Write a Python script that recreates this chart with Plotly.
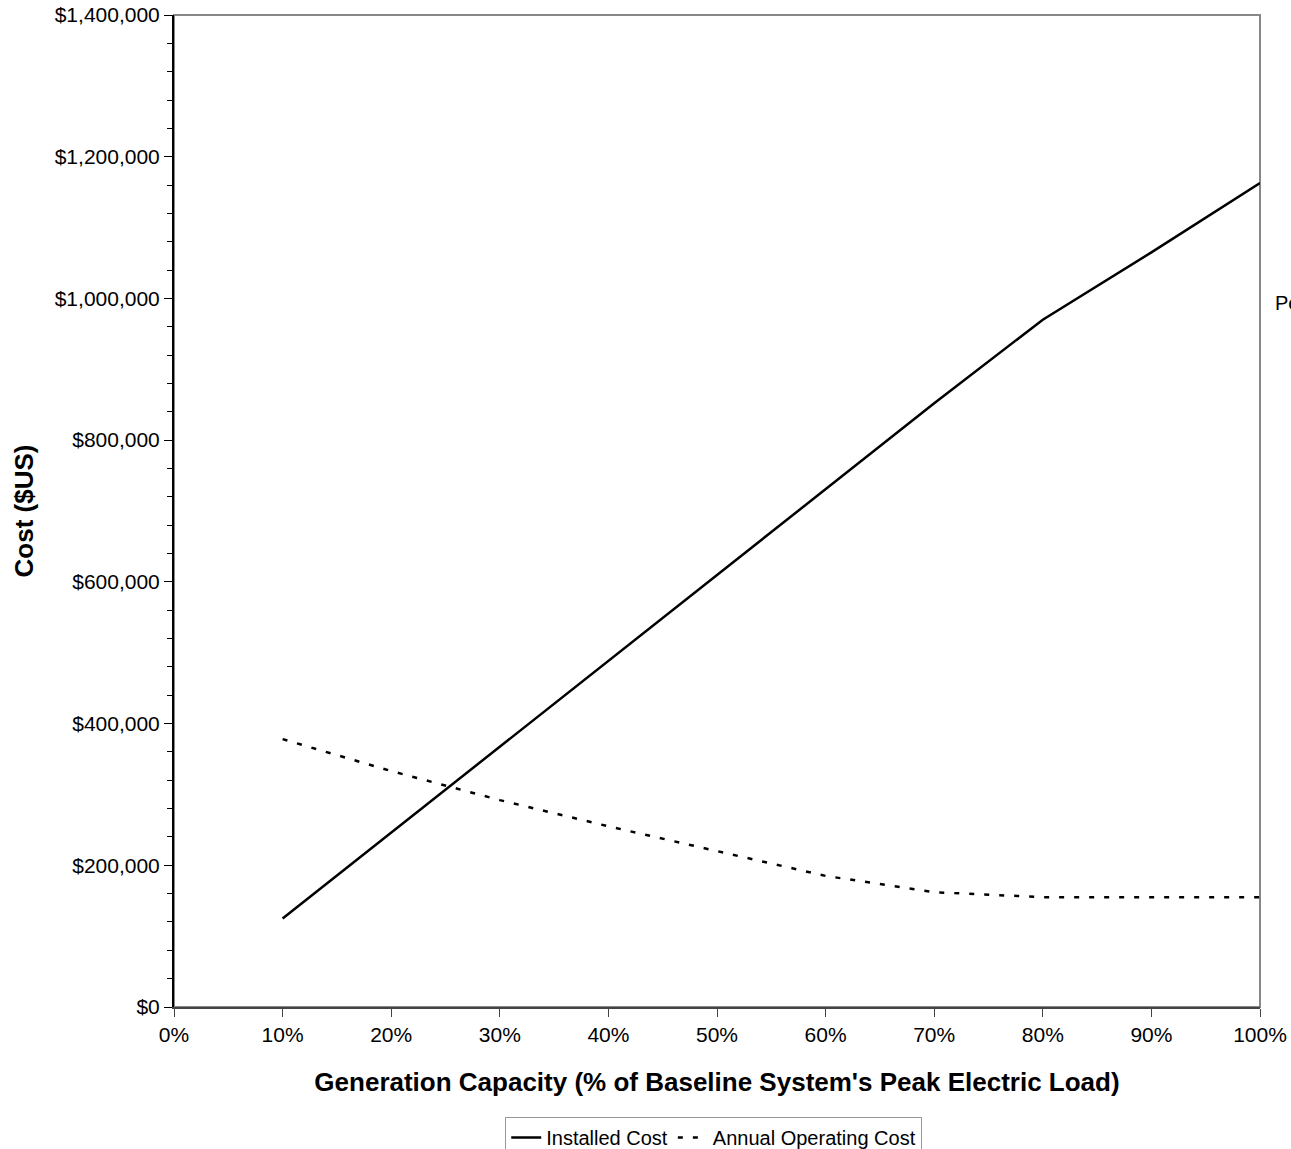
import plotly.graph_objects as go

capacity_pct = [10, 20, 30, 40, 50, 60, 70, 80, 90, 100]
installed_cost = [125000, 246000, 367000, 489000, 610000, 731000, 852000, 970000, 1065000, 1163000]
annual_operating_cost = [378000, 333000, 292000, 255000, 220000, 185000, 162000, 155000, 155000, 155000]

FONT = "Liberation Sans, Arial, sans-serif"

fig = go.Figure()
fig.add_trace(go.Scatter(x=capacity_pct, y=installed_cost, mode="lines", name="Installed Cost",
                         line=dict(color="black", width=2.5)))
fig.add_trace(go.Scatter(x=capacity_pct, y=annual_operating_cost, mode="lines", name="Annual Operating Cost",
                         line=dict(color="black", width=2.5, dash="5px,10px")))

fig.update_layout(
    width=1291, height=1149,
    margin=dict(l=174, r=31, t=15, b=142, autoexpand=False),
    paper_bgcolor="white", plot_bgcolor="white",
    font=dict(family=FONT, size=21, color="black"),
    showlegend=True,
    legend=dict(orientation="h", x=0.497, xanchor="center", y=-0.111, yanchor="top",
                bordercolor="#999999", borderwidth=1, font=dict(size=20), traceorder="normal",
                itemwidth=30),
    shapes=[dict(type="rect", xref="paper", yref="paper", x0=0, y0=0, x1=1, y1=1,
                 line=dict(color="#888888", width=2), layer="below")],
    annotations=[dict(text="Percent", xref="paper", yref="paper", x=1.0, xshift=13,
                      y=(1007 - 303) / 992, xanchor="left", yanchor="middle", showarrow=False,
                      font=dict(size=20, family=FONT))],
)

fig.update_xaxes(range=[0, 100], dtick=10, tick0=0, ticksuffix="%",
                 showgrid=False, zeroline=False, showline=True, linecolor="#444444", linewidth=2,
                 ticks="outside", ticklen=8, tickcolor="#444444", tickwidth=1,
                 ticklabeloverflow="allow",
                 title=dict(text="<b>Generation Capacity (% of Baseline System's Peak Electric Load)</b>",
                            font=dict(size=26), standoff=28),
                 tickfont=dict(size=21))
fig.update_yaxes(range=[0, 1400000], dtick=200000, tick0=0, tickprefix="$", tickformat=",d",
                 showgrid=False, zeroline=False, showline=True, linecolor="black", linewidth=2,
                 ticks="outside", ticklen=8, tickcolor="black", tickwidth=1,
                 ticklabeloverflow="allow",
                 minor=dict(dtick=40000, ticks="outside", ticklen=5, tickcolor="black", tickwidth=1, showgrid=False),
                 title=dict(text="<b>Cost ($US)</b>", font=dict(size=26), standoff=14),
                 tickfont=dict(size=21))

fig.write_html("out.html", config={"displayModeBar": False},
               post_script="document.body.style.margin='0';document.body.style.overflow='hidden';")
